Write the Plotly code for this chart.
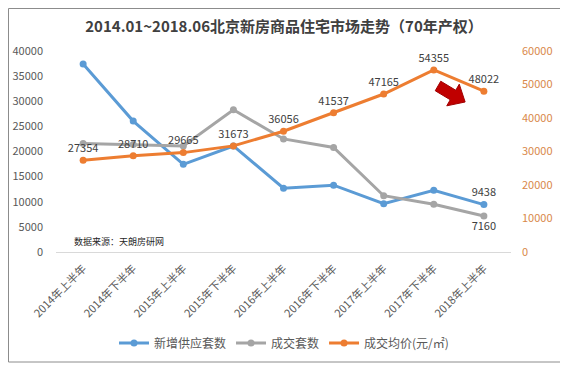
import plotly.graph_objects as go

categories = ["2014年上半年", "2014年下半年", "2015年上半年", "2015年下半年", "2016年上半年",
              "2016年下半年", "2017年上半年", "2017年下半年", "2018年上半年"]
supply = [37400, 26050, 17450, 21100, 12700, 13300, 9600, 12300, 9438]
deals = [21600, 21400, 21100, 28300, 22500, 20800, 11200, 9500, 7160]
price = [27354, 28710, 29665, 31673, 36056, 41537, 47165, 54355, 48022]

left_ticks = list(range(0, 40001, 5000))
right_ticks = list(range(0, 60001, 10000))

FONT = "Noto Sans CJK SC"
OFF = 8  # default page body margin
W, H = 568 - OFF, 369 - OFF
# plot area in reference (page) pixels
L, R, T, B = 56, 511, 51, 252


def px(x):
    return (x - L) / (R - L)


def py(y):
    return (B - y) / (B - T)


def cy(y):  # container fraction from page pixel y
    return 1 - (y - OFF) / H


def cx(x):
    return (x - OFF) / W


supply_text = ["" for _ in supply]
supply_text[-1] = str(supply[-1])
deals_text = ["" for _ in deals]
deals_text[-1] = str(deals[-1])
price_text = [str(v) for v in price]

fig = go.Figure()
fig.add_trace(go.Scatter(
    x=categories, y=supply, name="新增供应套数", mode="lines+markers+text",
    line=dict(color="#5B9BD5", width=3), marker=dict(size=7, color="#5B9BD5"),
    text=supply_text, textposition="top center",
    textfont=dict(family=FONT, size=11, color="#404040"), cliponaxis=False))
fig.add_trace(go.Scatter(
    x=categories, y=deals, name="成交套数", mode="lines+markers+text",
    line=dict(color="#A5A5A5", width=3), marker=dict(size=7, color="#A5A5A5"),
    text=deals_text, textposition="bottom center",
    textfont=dict(family=FONT, size=11, color="#404040"), cliponaxis=False))
fig.add_trace(go.Scatter(
    x=categories, y=price, name="成交均价(元/㎡)", mode="lines+markers+text", yaxis="y2",
    line=dict(color="#ED7D31", width=3), marker=dict(size=7, color="#ED7D31"),
    text=price_text, textposition="top center",
    textfont=dict(family=FONT, size=11, color="#404040"), cliponaxis=False))

# decorative red arrow (down-right)
d = (0.866, 0.5)
n = (-0.5, 0.866)
Tm = (438, 86)
Bm = (453, 95)
P = (Bm[0] + 14 * d[0], Bm[1] + 14 * d[1])
pts = [
    (Tm[0] - 5.5 * n[0], Tm[1] - 5.5 * n[1]),
    (Bm[0] - 5.5 * n[0], Bm[1] - 5.5 * n[1]),
    (Bm[0] - 12.5 * n[0], Bm[1] - 12.5 * n[1]),
    P,
    (Bm[0] + 12.5 * n[0], Bm[1] + 12.5 * n[1]),
    (Bm[0] + 5.5 * n[0], Bm[1] + 5.5 * n[1]),
    (Tm[0] + 5.5 * n[0], Tm[1] + 5.5 * n[1]),
]
path = "M " + " L ".join(f"{px(a):.4f},{py(b):.4f}" for a, b in pts) + " Z"

shapes = [
    dict(type="rect", xref="paper", yref="paper", x0=px(8.5), x1=px(562), y0=py(362), y1=py(8.5),
         line=dict(color="#8C8C8C", width=1), fillcolor="rgba(0,0,0,0)", layer="below"),
    dict(type="path", xref="paper", yref="paper", path=path,
         fillcolor="#C00000", line=dict(color="#A00000", width=1)),
]

fig.update_layout(
    width=W, height=H,
    margin=dict(l=L - OFF, r=W - (R - OFF), t=T - OFF, b=H - (B - OFF), autoexpand=False),
    paper_bgcolor="white", plot_bgcolor="white",
    font=dict(family=FONT, color="#595959", size=11),
    title=dict(text="<b>2014.01~2018.06北京新房商品住宅市场走势（70年产权）</b>",
               x=cx(284), xanchor="center", y=cy(27), yanchor="middle",
               font=dict(family=FONT, size=15, color="#404040")),
    xaxis=dict(type="category", showgrid=False, showline=True, linecolor="#D9D9D9", linewidth=1,
               tickangle=-45, ticks="", ticklabelstandoff=5,
               tickfont=dict(family=FONT, size=11, color="#595959"),
               zeroline=False, automargin=False),
    yaxis=dict(range=[0, 40000], tickvals=left_ticks, ticktext=[str(v) for v in left_ticks],
               showgrid=False, zeroline=False, automargin=False,
               ticks="", ticklabelstandoff=12,
               tickfont=dict(family=FONT, size=11, color="#595959")),
    yaxis2=dict(range=[0, 60000], tickvals=right_ticks, ticktext=[str(v) for v in right_ticks],
                overlaying="y", side="right", automargin=False,
                showgrid=False, zeroline=False, ticks="", ticklabelstandoff=10,
                tickfont=dict(family=FONT, size=11, color="#D9884A")),
    legend=dict(orientation="h", x=cx(284), xanchor="center", xref="container",
                y=cy(343), yanchor="middle", yref="container",
                font=dict(family=FONT, size=12, color="#595959"), itemwidth=30,
                bgcolor="rgba(0,0,0,0)"),
    shapes=shapes,
    annotations=[dict(text="数据来源：天朗房研网", xref="paper", yref="paper",
                      x=px(72), y=py(241), xanchor="left", yanchor="middle", showarrow=False,
                      font=dict(family=FONT, size=9, color="#262626"))],
)

fig.write_html("out.html")
